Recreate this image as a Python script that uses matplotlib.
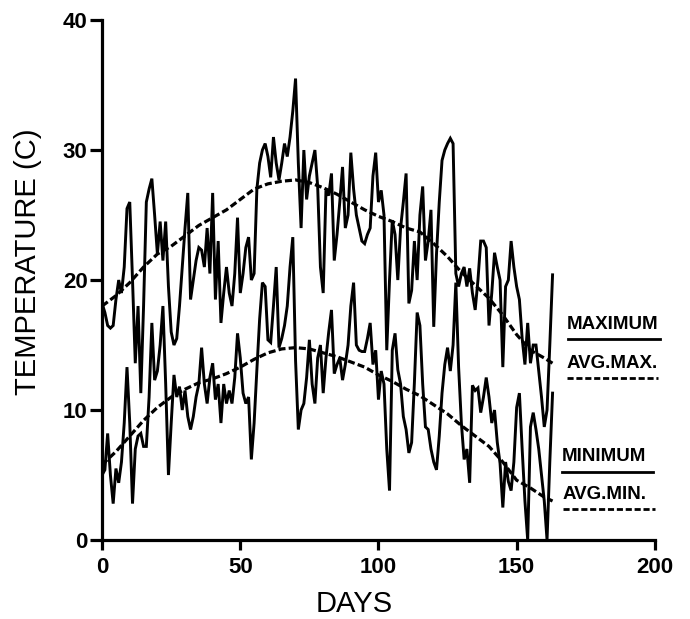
"""Daily max/min temperature with running averages (scanned figure redraw)."""

import matplotlib

matplotlib.use("Agg")
import matplotlib.pyplot as plt

FONT = ["Liberation Sans", "DejaVu Sans"]

# daily maximum temperature, days 0..163
t_max = [
    18.2, 17.5, 16.5, 16.3, 16.5, 18.5, 20, 19, 21, 25.5,
    26, 20, 13.6, 18, 11.3, 18, 26, 27, 27.8, 25,
    22, 24.5, 21.5, 24.5, 19.5, 16, 15, 15.5, 18, 21,
    24, 26.7, 18.5, 20, 21.5, 22.5, 22.3, 21, 24, 20.5,
    26.7, 18.5, 23, 16.7, 19, 21, 19, 18, 20.5, 24.8,
    19, 20.5, 22.5, 23.3, 20, 20.5, 27, 29, 30, 30.5,
    29.5, 27.9, 31, 29, 27.7, 29, 30.5, 29.5, 31, 33,
    35.5, 29, 24, 30, 26.2, 28, 29, 30, 27.2, 21,
    19, 26.9, 26.5, 28.2, 21.5, 23.5, 26, 28.7, 24, 25,
    29.8, 27, 25, 24, 23, 22.8, 23.5, 24, 28, 29.8,
    26, 26.9, 25, 14.6, 20, 24.6, 23.5, 20, 24, 26,
    28.2, 18.2, 19.2, 23, 20, 25, 27.2, 21.5, 23, 25.4,
    16.4, 22, 26, 29.2, 30, 30.5, 30.9, 30.5, 20.5, 19.5,
    20.5, 21, 19.5, 20.9, 19, 17.7, 20, 23, 23, 22.5,
    16.5, 19, 22.1, 21, 20, 13.3, 19.5, 20, 23, 21,
    19.5, 18.5, 15.5, 13.5, 16.7, 13.6, 15, 15, 13, 11,
    8.7, 10, 15, 20.4,
]

# daily minimum temperature, days 0..163
t_min = [
    5, 5.4, 8.2, 5, 2.8, 5.5, 4.4, 6, 9, 13.3,
    9, 2.8, 7, 8, 8.2, 7.2, 7.2, 11, 16.7, 12.3,
    13, 15, 18, 12, 5, 9, 12.7, 11, 11.8, 10,
    11.5, 9.5, 8.5, 9.5, 11, 12, 14.8, 12, 10.5, 12.5,
    13.6, 10.8, 12, 9, 12, 10.5, 11.5, 10.5, 12.5, 15.9,
    14, 11.3, 10.5, 11, 6.2, 9, 13.1, 17, 19.8, 19.5,
    15.4, 15.2, 18, 21, 14.8, 15.5, 16.5, 18, 21, 23.3,
    13.8, 8.5, 10, 10.5, 12.5, 15.4, 12, 10.5, 14, 15,
    11.3, 14, 16, 17.7, 12.8, 13.5, 14, 12.3, 13.5, 15,
    18, 19.8, 15, 14.6, 14.5, 14.5, 15.5, 16.7, 13.5, 14.6,
    10.8, 13, 12, 7, 3.8, 14.6, 15.9, 13.1, 12, 9.5,
    8.5, 6.7, 7.5, 12.1, 17.5, 16.5, 12, 8.7, 8.5, 7,
    6, 5.4, 8, 11.3, 13.5, 14.8, 13, 15, 19.8, 13.3,
    9, 6.2, 7, 4.4, 11.9, 11.5, 11.7, 9.8, 11, 12.5,
    11, 9, 10, 7.5, 5.9, 2.5, 6, 4.5, 3.8, 6,
    10.2, 11.3, 7, 3, 0, 8.7, 9.8, 8.5, 7, 5,
    3, 0, 6, 11.3,
]

# running averages, read every 5 days
avg_days = [0, 5, 10, 15, 20, 25, 30, 35, 40, 45, 50, 55, 60, 65, 70, 75, 80,
            85, 90, 95, 100, 105, 110, 115, 120, 125, 130, 135, 140, 145, 150,
            155, 160, 163]
avg_max = [18, 18.8, 19.8, 21, 22, 22.6, 23.4, 24.2, 24.8, 25.4, 26.2, 27,
           27.4, 27.6, 27.7, 27.5, 27.1, 26.6, 26, 25.4, 24.9, 24.5, 24, 23.7,
           22.8, 21.8, 20.6, 19.6, 18.6, 17.3, 15.8, 14.6, 14, 13.6]
avg_min = [5.8, 6.8, 8, 9.2, 10.2, 11, 11.6, 12.1, 12.4, 12.8, 13.3, 13.9,
           14.4, 14.7, 14.8, 14.7, 14.4, 14.1, 13.7, 13.3, 12.7, 12.2, 11.6,
           11.1, 10.4, 9.7, 8.8, 8, 7.2, 6, 4.6, 4, 3.3, 3]

x_ticks = [0, 50, 100, 150, 200]
y_ticks = [0, 10, 20, 30, 40]

DASH = (0, (2.2, 1.0))

fig = plt.figure(figsize=(6.9, 6.19), dpi=100)
ax = fig.add_axes([0.148, 0.1276, 0.801, 0.840])

days = list(range(len(t_max)))
ax.plot(days, t_max, color="black", lw=2.1, solid_joinstyle="miter")
ax.plot(days, t_min, color="black", lw=2.1, solid_joinstyle="miter")
ax.plot(avg_days, avg_max, color="black", lw=2.3, linestyle=DASH)
ax.plot(avg_days, avg_min, color="black", lw=2.3, linestyle=DASH)

# hand-lettered key on the right
key = [
    ("MAXIMUM", 168.2, 15.9, 168.5, 201.8, 15.46, "-"),
    ("AVG.MAX.", 168.2, 12.9, 168.2, 201.0, 12.5, DASH),
    ("MINIMUM", 166.4, 5.77, 166.4, 199.3, 5.23, "-"),
    ("AVG.MIN.", 166.7, 2.85, 166.7, 200.0, 2.38, DASH),
]
for label, tx, ty, x0, x1, ly, ls in key:
    ax.text(tx, ty, label, family=FONT, fontweight="bold", fontsize=13.5,
            ha="left", va="bottom")
    ax.plot([x0, x1], [ly, ly], color="black", lw=2.0, linestyle=ls,
            clip_on=False)

ax.set_xlim(0, 200)
ax.set_ylim(0, 40)
ax.set_xticks(x_ticks)
ax.set_yticks(y_ticks)
for s in ("top", "right"):
    ax.spines[s].set_visible(False)
for s in ("left", "bottom"):
    ax.spines[s].set_linewidth(2.3)
ax.tick_params(axis="y", direction="out", length=8.5, width=2.3, pad=2)
ax.tick_params(axis="x", direction="out", length=7.5, width=2.3, pad=5)
for lab in ax.get_xticklabels() + ax.get_yticklabels():
    lab.set_family(FONT)
    lab.set_fontweight("bold")
    lab.set_fontsize(16)

fig.text(0.0406, 0.577, "TEMPERATURE (C)", rotation=90, ha="center",
         va="center", family=FONT, fontsize=21)
fig.text(0.514, 0.024, "DAYS", ha="center", va="center", family=FONT,
         fontsize=21)

fig.savefig("out.png", dpi=100)
plt.close(fig)
